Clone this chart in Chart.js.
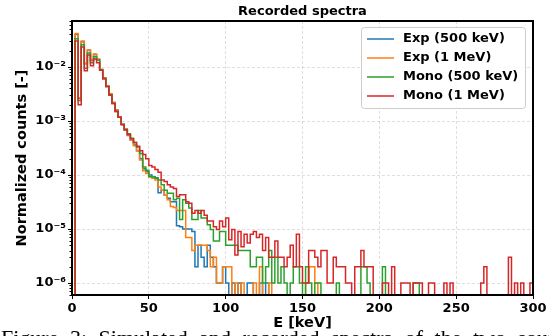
<!DOCTYPE html>
<html><head><meta charset="utf-8">
<script src="https://cdn.jsdelivr.net/npm/chart.js@4"></script>
<style>
html,body{margin:0;padding:0;background:#fff;}
#wrap{position:relative;width:549px;height:336px;overflow:hidden;background:#fff;}
#c{position:absolute;left:0;top:0;}
#cap{position:absolute;left:1px;top:325px;font-family:"Liberation Serif",serif;font-size:22px;word-spacing:6px;white-space:nowrap;color:#000;}
</style></head><body>
<div id="wrap"><canvas id="c" width="549" height="336"></canvas><div id="cap">Figure 3: Simulated and recorded spectra of the two sources</div></div>
<script>
// ---- data (2 keV bins from 0 to 300 keV) ----
const binWidthKeV = 2;
const seriesLabels = ['Exp (500 keV)', 'Exp (1 MeV)', 'Mono (500 keV)', 'Mono (1 MeV)'];
const xTickValues = [0, 50, 100, 150, 200, 250, 300];
const yTickLabels = {'-6': '10⁻⁶', '-5': '10⁻⁵', '-4': '10⁻⁴', '-3': '10⁻³', '-2': '10⁻²'};

const exp500 = [
 0, 0.0398, 0.0026, 0.0295, 0.0115, 0.0204, 0.0132, 0.0170, 0.0138, 0.0089,
 0.0062, 0.0044, 0.0031, 0.0022, 0.0016, 0.00118, 0.00086, 6.8e-4, 5.4e-4, 4.4e-4,
 3.6e-4, 2.8e-4, 2.0e-4, 1.3e-4, 1.15e-4, 1.0e-4, 9.3e-5, 8.9e-5, 4.7e-5, 5.2e-5,
 4.2e-5, 3.7e-5, 3.2e-5, 3.2e-5, 1.15e-5, 1.1e-5, 1.0e-5, 1.0e-5, 1.0e-5, 9e-6,
 2e-6, 5e-6, 3e-6, 2e-6, 5e-6, 3e-6, 2e-6, 1e-6, 1e-6, 2e-6,
 1e-6, 0, 1e-6, 0, 1e-6, 0, 0, 1e-6, 1e-6, 0,
 0, 1e-6, 0, 1e-6, 0, 0, 0, 0, 0, 0,
 0, 0, 0, 0, 0, 0, 0, 0, 0, 0,
 0, 0, 0, 0, 0, 0, 0, 0, 0, 0,
 0, 0, 0, 0, 0, 0, 0, 0, 0, 0,
 0, 0, 0, 0, 0, 0, 0, 0, 0, 0,
 0, 0, 0, 0, 0, 0, 0, 0, 0, 0,
 0, 0, 0, 0, 0, 0, 0, 0, 0, 0,
 0, 0, 0, 0, 0, 0, 0, 0, 0, 0,
 0, 0, 0, 0, 0, 0, 0, 0, 0, 0
];
const exp1MeV = [
 0, 0.0417, 0.0027, 0.0302, 0.0117, 0.0207, 0.0135, 0.0174, 0.0141, 0.0091,
 0.0063, 0.0045, 0.0032, 0.0022, 0.0016, 0.00117, 0.00087, 6.9e-4, 5.5e-4, 4.4e-4,
 3.5e-4, 2.8e-4, 1.9e-4, 1.2e-4, 1.07e-4, 9.3e-5, 8.7e-5, 8.1e-5, 6.0e-5, 5.2e-5,
 4.2e-5, 3.5e-5, 2.6e-5, 2.5e-5, 2.2e-5, 2.2e-5, 2.2e-5, 7e-6, 7e-6, 4e-6,
 5e-6, 5e-6, 5e-6, 5e-6, 4e-6, 2e-6, 3e-6, 1e-6, 1e-6, 2e-6,
 2e-6, 2e-6, 0, 1e-6, 0, 1e-6, 0, 0, 0, 1e-6,
 0, 2e-6, 0, 0, 1e-6, 0, 0, 0, 0, 0,
 0, 0, 0, 0, 0, 0, 1e-6, 2e-6, 2e-6, 1e-6,
 0, 0, 0, 0, 0, 0, 0, 0, 0, 0,
 0, 0, 0, 0, 0, 0, 0, 0, 0, 0,
 0, 0, 0, 0, 0, 0, 0, 0, 0, 0,
 0, 0, 0, 0, 0, 0, 0, 0, 0, 0,
 0, 0, 0, 0, 0, 0, 0, 0, 0, 0,
 0, 0, 0, 0, 0, 0, 0, 0, 0, 0,
 0, 0, 0, 0, 0, 0, 0, 0, 0, 0
];
const mono500 = [
 0, 0.0334, 0.0024, 0.0259, 0.0095, 0.0182, 0.0120, 0.0155, 0.0135, 0.0089,
 0.0062, 0.0044, 0.0031, 0.0021, 0.0015, 0.00118, 0.00087, 7.1e-4, 5.8e-4, 4.8e-4,
 4.0e-4, 3.3e-4, 2.5e-4, 1.4e-4, 1.23e-4, 9.3e-5, 9.3e-5, 8.7e-5, 8.1e-5, 6.6e-5,
 5.2e-5, 4.6e-5, 4.6e-5, 3.5e-5, 3.7e-5, 1.5e-5, 3.5e-5, 3.0e-5, 2.45e-5, 1.5e-5,
 1.5e-5, 2.2e-5, 1.6e-5, 1.6e-5, 1.2e-5, 9.8e-6, 6e-6, 6e-6, 9e-6, 9e-6,
 5e-6, 5e-6, 5e-6, 5e-6, 4e-6, 4e-6, 4e-6, 4e-6, 2e-6, 2e-6,
 3e-6, 3e-6, 1e-6, 2e-6, 4e-6, 1e-6, 3e-6, 1e-6, 2e-6, 1e-6,
 0, 1e-6, 2e-6, 2e-6, 1e-6, 0, 2e-6, 1e-6, 0, 1e-6,
 1e-6, 0, 0, 0, 0, 0, 1e-6, 0, 0, 0,
 0, 0, 0, 0, 2e-6, 2e-6, 1e-6, 0, 0, 0,
 0, 2e-6, 0, 0, 0, 0, 0, 0, 0, 0,
 0, 1e-6, 1e-6, 0, 0, 0, 0, 0, 0, 0,
 0, 0, 0, 0, 0, 0, 0, 0, 0, 0,
 0, 0, 0, 0, 0, 0, 0, 0, 0, 0,
 0, 0, 0, 0, 0, 0, 0, 0, 0, 0
];
const mono1MeV = [
 0, 0.0302, 0.0020, 0.0234, 0.0085, 0.0166, 0.0105, 0.0141, 0.0120, 0.0087,
 0.0060, 0.0043, 0.0030, 0.0021, 0.0015, 0.00117, 0.00085, 6.9e-4, 5.6e-4, 4.7e-4,
 4.0e-4, 3.4e-4, 2.8e-4, 2.4e-4, 2.0e-4, 1.5e-4, 1.4e-4, 1.26e-4, 1.12e-4, 8.1e-5,
 7.6e-5, 6.6e-5, 6.0e-5, 5.6e-5, 4.0e-5, 4.3e-5, 4.3e-5, 3.2e-5, 3.0e-5, 1.95e-5,
 2.2e-5, 1.95e-5, 2.2e-5, 1.8e-5, 1.4e-5, 1.4e-5, 1.1e-5, 9.8e-6, 1.4e-5, 1.1e-5,
 1.6e-5, 6.3e-6, 9.8e-6, 3.3e-6, 9e-6, 4.7e-6, 8e-6, 5.5e-6, 8e-6, 9e-6,
 7e-6, 8e-6, 4e-6, 7e-6, 3e-6, 3e-6, 6e-6, 3e-6, 3e-6, 2e-6,
 3e-6, 5e-6, 2e-6, 8e-6, 2e-6, 1e-6, 1e-6, 4e-6, 4e-6, 3e-6,
 2e-6, 4e-6, 4e-6, 1e-6, 1e-6, 3e-6, 2e-6, 2e-6, 2e-6, 1e-6,
 1e-6, 0, 2e-6, 2e-6, 4e-6, 2e-6, 2e-6, 2e-6, 0, 0,
 0, 1e-6, 1e-6, 0, 2e-6, 0, 0, 1e-6, 1e-6, 1e-6,
 0, 1e-6, 1e-6, 1e-6, 0, 0, 1e-6, 1e-6, 0, 0,
 0, 1e-6, 0, 1e-6, 0, 0, 0, 0, 0, 0,
 0, 0, 0, 1e-6, 2e-6, 0, 0, 0, 0, 0,
 0, 0, 3e-6, 0, 1e-6, 0, 1e-6, 0, 0, 1e-6
];
const seriesColors = ['#1f77b4', '#ff7f0e', '#2ca02c', '#d62728'];
const allSeries = [exp500, exp1MeV, mono500, mono1MeV];

// ---- build ----
const Y_MIN = 6.0e-7, Y_MAX = 0.0711, BELOW = 1e-9;
function stepPoints(vals) {
  const pts = vals.map((v, i) => ({x: i * binWidthKeV, y: v > 0 ? v : BELOW}));
  pts.push({x: vals.length * binWidthKeV, y: BELOW});
  return pts;
}
const FONT = 'DejaVu Sans';
const gridColor = 'rgba(0,0,0,0.16)';
function isMajor(v) { const l = Math.log10(v); return Math.abs(l - Math.round(l)) < 1e-6; }

const datasets = allSeries.map((s, k) => ({
  label: seriesLabels[k],
  data: stepPoints(s),
  borderColor: seriesColors[k],
  borderWidth: 1.5,
  pointRadius: 0,
  stepped: 'before',
  fill: false,
  clip: 0,
  order: 4 - k
}));

const framePlugin = {
  id: 'frame',
  afterDatasetsDraw(chart) {
    const {ctx, chartArea: a, scales} = chart;
    ctx.save();
    ctx.strokeStyle = '#000'; ctx.lineWidth = 1;
    scales.y.ticks.forEach(t => {
      if (!isMajor(t.value)) {
        const py = Math.round(scales.y.getPixelForValue(t.value)) + 0.5;
        ctx.beginPath(); ctx.moveTo(a.left - 2.5, py); ctx.lineTo(a.left, py); ctx.stroke();
      }
    });
    ctx.lineWidth = 2;
    ctx.strokeRect(a.left, a.top, a.right - a.left, a.bottom - a.top);
    ctx.restore();
  },
  afterDraw(chart) {
    const {ctx, chartArea: a} = chart;
    ctx.save();
    ctx.fillStyle = '#000';
    ctx.font = 'bold 13px "' + FONT + '"';
    ctx.textAlign = 'center'; ctx.textBaseline = 'alphabetic';
    ctx.fillText('Recorded spectra', (a.left + a.right) / 2, 15);
    const bw = 164, bh = 81, bx = a.right - 8 - bw, by = a.top + 6;
    ctx.beginPath();
    if (ctx.roundRect) ctx.roundRect(bx + 0.5, by + 0.5, bw, bh, 3); else ctx.rect(bx + 0.5, by + 0.5, bw, bh);
    ctx.fillStyle = 'rgba(255,255,255,0.85)'; ctx.fill();
    ctx.strokeStyle = '#cccccc'; ctx.lineWidth = 1; ctx.stroke();
    ctx.textAlign = 'left'; ctx.textBaseline = 'middle';
    chart.data.datasets.forEach((d, k) => {
      const ry = by + 12 + k * 19;
      ctx.strokeStyle = d.borderColor; ctx.lineWidth = 1.5;
      ctx.beginPath(); ctx.moveTo(bx + 6, ry); ctx.lineTo(bx + 33, ry); ctx.stroke();
      ctx.fillStyle = '#000';
      ctx.fillText(d.label, bx + 42, ry);
    });
    ctx.restore();
  }
};

new Chart(document.getElementById('c'), {
  type: 'line',
  data: {datasets},
  plugins: [framePlugin],
  options: {
    responsive: false, animation: false, devicePixelRatio: 1,
    layout: {padding: {top: 21, right: 16, left: 0, bottom: 0}},
    plugins: {legend: {display: false}, tooltip: {enabled: false}, title: {display: false}},
    events: [],
    scales: {
      x: {
        type: 'linear', min: 0, max: 300,
        afterBuildTicks: s => { s.ticks = xTickValues.map(v => ({value: v})); },
        afterFit: s => { s.height = 41; },
        ticks: {color: '#000', font: {family: FONT, size: 13, weight: 'bold'}, padding: 2, maxRotation: 0, autoSkip: false},
        grid: {color: gridColor, lineWidth: 0.8, tickLength: 4, tickColor: '#000', tickWidth: 1},
        border: {display: false, dash: [3, 2]},
        title: {display: true, text: 'E [keV]', color: '#000', font: {family: FONT, size: 14.5, weight: 'bold'}, padding: {top: 0, bottom: 4.3}}
      },
      y: {
        type: 'logarithmic', min: Y_MIN, max: Y_MAX,
        afterBuildTicks: s => {
          const t = [];
          for (let e = -7; e <= -1; e++) for (let m = 1; m <= 9; m++) {
            const v = m * Math.pow(10, e);
            if (v >= Y_MIN && v <= Y_MAX) t.push({value: v, major: m === 1});
          }
          s.ticks = t;
        },
        afterFit: s => { s.width = 72; },
        ticks: {
          color: '#000', font: {family: FONT, size: 13, weight: 'bold'}, padding: 2, autoSkip: false,
          callback: v => isMajor(v) ? (yTickLabels[String(Math.round(Math.log10(v)))] || '') : ''
        },
        grid: {
          color: c => (c.tick && isMajor(c.tick.value)) ? gridColor : 'rgba(0,0,0,0)',
          tickColor: c => (c.tick && isMajor(c.tick.value)) ? '#000' : 'rgba(0,0,0,0)',
          lineWidth: 0.8, tickLength: 4, tickWidth: 1
        },
        border: {display: false, dash: [3, 2]},
        title: {display: true, text: 'Normalized counts [-]', color: '#000', font: {family: FONT, size: 14.5, weight: 'bold'}, padding: {top: 13.3, bottom: 0}}
      }
    }
  }
});
</script>
</body></html>
